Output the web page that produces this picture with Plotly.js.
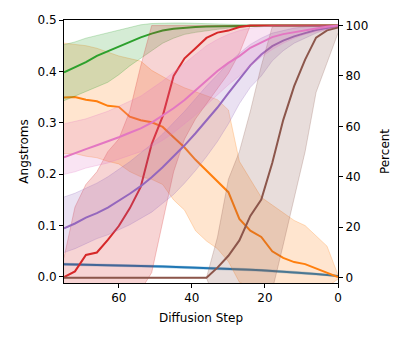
<!DOCTYPE html>
<html>
<head>
<meta charset="utf-8">
<script src="https://cdn.plot.ly/plotly-3.0.1.min.js"></script>
<style>
  body { margin: 0; background: #fff; }
  #plot { width: 408px; height: 340px; }
</style>
</head>
<body>
<div id="plot"></div>
<script>
// diffusion steps, read left to right (axis runs 75 -> 0)
let steps = [75, 72, 69, 66, 63, 60, 57, 54, 51, 48, 45, 42, 39, 36, 33, 30, 27, 24, 21, 18, 15, 12, 9, 6, 3, 0]

// Angstroms (left axis)
let blueMean = [.0247, .0244, .024, .0235, .023, .0225, .022, .0214, .0208, .0202, .0196, .019, .0183, .0175, .0167, .0158, .015, .014, .013, .0118, .0105, .009, .0075, .0058, .004, .002]
let blueHi = [.0267, .0264, .026, .0255, .025, .0245, .024, .0234, .0228, .0222, .0216, .021, .0203, .0195, .0187, .0178, .017, .016, .015, .0138, .0125, .011, .0094, .0076, .0056, .0032]
let blueLo = [.0227, .0224, .022, .0215, .021, .0205, .02, .0194, .0188, .0182, .0176, .017, .0163, .0155, .0147, .0138, .013, .012, .011, .0098, .0085, .007, .0056, .004, .0024, .0008]

let orangeMean = [.349, .35, .345, .342, .333, .331, .312, .305, .301, .292, .272, .252, .228, .207, .188, .165, .113, .09, .078, .05, .037, .029, .025, .017, .008, 0]
let orangeHi = [.455, .452, .45, .445, .438, .43, .425, .42, .402, .39, .378, .368, .36, .352, .345, .325, .225, .19, .155, .14, .125, .11, .1, .08, .06, .004]
let orangeLo = [.24, .24, .235, .232, .225, .22, .205, .195, .19, .18, .15, .13, .09, .07, .055, .03, -.01, -.02, -.03, -.035, -.04, -.04, -.04, -.035, -.02, -.004]

// Percent (right axis)
let greenMean = [81.4, 83.5, 85.5, 88, 89.8, 91.8, 93.5, 95.3, 96.8, 98, 98.7, 99.1, 99.4, 99.6, 99.7, 99.8, 99.9, 100, 100, 100, 100, 100, 100, 100, 100, 100]
let greenHi = [92.4, 93.5, 95, 96, 97, 98, 99, 100.3, 100.8, 101, 101, 101, 100.8, 100.7, 100.6, 100.5, 100.4, 100.2, 100, 100, 100, 100, 100, 100, 100, 100]
let greenLo = [70.2, 72, 74, 75.5, 77.5, 80.5, 84, 87, 90, 93, 95, 96.5, 97.3, 98, 98.5, 99, 99.3, 99.7, 100, 100, 100, 100, 100, 100, 100, 100]

let redMean = [0.2, 2.5, 9, 10, 15, 20.5, 27.5, 36, 53, 64, 80, 87, 91, 95.1, 97.2, 98, 99.4, 100, 100, 100, 100, 100, 100, 100, 100, 100]
let redHi = [8, 28, 37, 42, 50, 55, 66, 84, 100, 100, 100, 100, 100, 100, 100, 100, 100, 100, 100, 100, 100, 100, 100, 100, 100, 100]
let redLo = [-5, -5, -5, -5, -5, -5, -5, -5, 2, 22, 42, 55, 63, 69, 75, 81, 89, 100, 100, 100, 100, 100, 100, 100, 100, 100]

let purpleMean = [19.6, 21.5, 23.8, 25.6, 27.8, 30.4, 33.3, 36.3, 39.8, 43.8, 48, 52.5, 57.3, 62.5, 67.5, 73.2, 78.7, 84.2, 88.5, 91.8, 94, 95.7, 97, 98.2, 99, 99.8]
let purpleHi = [32, 33.5, 35.5, 37.5, 40, 43, 46, 49.5, 53, 57, 61.5, 66, 71, 76, 80.5, 85, 89, 92.5, 95, 97, 98, 99, 99.5, 99.8, 100, 100]
let purpleLo = [10, 11.5, 13.5, 15.5, 17, 19, 21, 23.5, 26, 29.5, 33, 37.5, 42.5, 48, 54, 61, 69, 75.5, 80, 86, 90, 93, 95, 97, 98.5, 99.5]

let brownMean = [0, 0, 0, 0, 0, 0, 0, 0, 0, 0, 0, 0, 0, 0, 4, 8.7, 14.8, 24.5, 31, 45.5, 62.5, 76, 86.5, 95.2, 98.1, 99.2]
let brownHi = [0, 0, 0, 0, 0, 0, 0, 0, 0, 0, 0, 0, 0, 0, 16, 39, 50, 66, 84, 99.5, 100, 100, 100, 100, 100, 100]
let brownLo = [0, 0, 0, 0, 0, 0, 0, 0, 0, 0, 0, 0, 0, 0, -12, -20, -20, -17, -10, -5, 13, 31, 50, 73.5, 85, 97]

let pinkMean = [47.7, 49.5, 51, 52.5, 54, 55.7, 57.5, 59.2, 61.5, 64.3, 67.2, 70.5, 74.3, 78.3, 82, 85.2, 87.9, 91.2, 93.4, 95.4, 96.6, 97.4, 98.2, 98.8, 99.5, 100]
let pinkHi = [61, 62, 63, 64.5, 66, 68, 70, 72, 75, 78, 81.5, 85, 88.5, 92, 94.5, 96.5, 98, 99, 99.5, 100, 100, 100, 100, 100, 100, 100]
let pinkLo = [41, 42, 43.5, 44.5, 45.5, 47, 48.5, 50, 52, 54.5, 57.5, 61, 64.5, 68.5, 72.5, 76.5, 80, 84, 87.5, 90.5, 93, 95, 96.5, 97.5, 98.5, 99.5]

let data = []

// lower edge, upper edge filled to it, then the mean line
function addSeries(mean, lo, hi, rgb, axis) {
    let edge = "rgba(" + rgb + ",0.25)"
    data.push({x: steps, y: lo, yaxis: axis, mode: "lines", line: {color: edge, width: 1}, hoverinfo: "skip"})
    data.push({x: steps, y: hi, yaxis: axis, mode: "lines", fill: "tonexty",
        fillcolor: "rgba(" + rgb + ",0.2)", line: {color: edge, width: 1}, hoverinfo: "skip"})
    data.push({x: steps, y: mean, yaxis: axis, mode: "lines", line: {color: "rgb(" + rgb + ")", width: 2}})
}

addSeries(blueMean, blueLo, blueHi, "31,119,180", "y")
addSeries(orangeMean, orangeLo, orangeHi, "255,127,14", "y")
addSeries(greenMean, greenLo, greenHi, "44,160,44", "y2")
addSeries(redMean, redLo, redHi, "214,39,40", "y2")
addSeries(purpleMean, purpleLo, purpleHi, "148,103,189", "y2")
addSeries(brownMean, brownLo, brownHi, "140,86,75", "y2")
addSeries(pinkMean, pinkLo, pinkHi, "227,119,194", "y2")

let font = {family: "DejaVu Sans", size: 12, color: "#000"}

let layout = {
    width: 408,
    height: 340,
    margin: {l: 64, r: 70, t: 20, b: 57},
    showlegend: false,
    paper_bgcolor: "#fff",
    plot_bgcolor: "#fff",
    font: font,
    xaxis: {
        range: [75, 0],
        tickvals: [60, 40, 20, 0],
        ticks: "outside", ticklen: 4, tickwidth: 1, tickcolor: "#000",
        showline: true, mirror: true, linecolor: "#000", linewidth: 1,
        showgrid: false, zeroline: false,
        title: {text: "Diffusion Step", font: font, standoff: 9}
    },
    yaxis: {
        range: [-0.0117, 0.5],
        tickvals: [0, 0.1, 0.2, 0.3, 0.4, 0.5],
        tickformat: ".1f",
        ticks: "outside", ticklen: 4, tickwidth: 1, tickcolor: "#000",
        showline: true, linecolor: "#000", linewidth: 1,
        showgrid: false, zeroline: false,
        title: {text: "Angstroms", font: font, standoff: 6}
    },
    yaxis2: {
        overlaying: "y",
        side: "right",
        range: [-2.1, 102.2],
        tickvals: [0, 20, 40, 60, 80, 100],
        ticks: "outside", ticklen: 4, tickwidth: 1, tickcolor: "#000",
        showline: true, linecolor: "#000", linewidth: 1,
        showgrid: false, zeroline: false,
        title: {text: "Percent", font: font, standoff: 13}
    }
}

Plotly.newPlot("plot", data, layout, {displayModeBar: false, staticPlot: true})
</script>
</body>
</html>
